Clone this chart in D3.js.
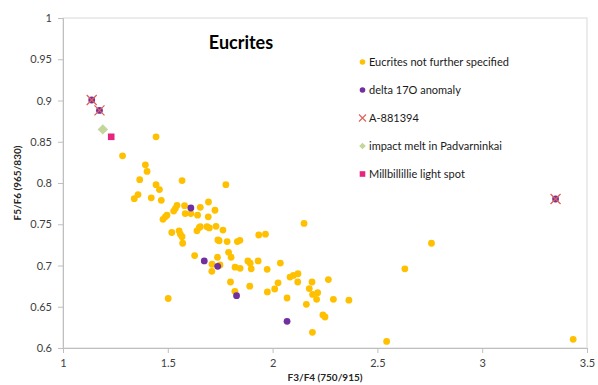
<!DOCTYPE html>
<html><head><meta charset="utf-8">
<script src="https://cdn.jsdelivr.net/npm/d3@7"></script>
<style>body{margin:0;background:#fff}svg{display:block}text{font-family:Lato,"Open Sans",sans-serif}</style>
</head><body><svg id="c" width="598" height="385"></svg>
<script>
const xTicks = [1, 1.5, 2, 2.5, 3, 3.5];
const yTicks = [0.6, 0.65, 0.7, 0.75, 0.8, 0.85, 0.9, 0.95, 1];
const seriesNames = ["Eucrites not further specified","delta 17O anomaly","A-881394","impact melt in Padvarninkai","Millbillillie light spot"];
const eucrites = [
[1.444,0.856],[1.284,0.833],[1.393,0.822],[1.401,0.814],[1.366,0.804],[1.568,0.803],[1.777,0.798],
[1.444,0.798],[1.460,0.792],[1.358,0.786],[1.340,0.781],[1.421,0.782],[1.469,0.779],[1.544,0.773],
[1.528,0.766],[1.536,0.769],[1.580,0.7725],[1.655,0.7705],[1.694,0.777],[1.725,0.767],[1.583,0.763],
[1.610,0.763],[1.642,0.761],[1.693,0.759],[1.496,0.761],[1.488,0.759],[1.477,0.756],[1.519,0.740],
[1.554,0.742],[1.560,0.738],[1.568,0.735],[1.571,0.727],[1.639,0.742],[1.650,0.746],[1.655,0.747],
[1.687,0.747],[1.698,0.7455],[1.730,0.7475],[1.763,0.743],[1.739,0.731],[1.745,0.730],[1.783,0.729],
[1.832,0.729],[1.844,0.7305],[1.934,0.737],[1.966,0.738],[2.150,0.751],[2.758,0.727],[2.631,0.696],
[1.628,0.712],[1.737,0.710],[1.790,0.716],[1.802,0.710],[1.711,0.7015],[1.749,0.7006],[1.710,0.693],
[1.821,0.698],[1.845,0.6966],[1.882,0.7055],[1.893,0.7027],[1.898,0.696],[1.931,0.7055],[1.974,0.6954],
[2.037,0.703],[2.083,0.686],[2.099,0.688],[2.121,0.690],[2.188,0.680],[2.266,0.683],[2.026,0.679],
[2.010,0.6715],[2.120,0.680],[2.175,0.672],[2.215,0.667],[2.191,0.665],[2.210,0.659],[2.290,0.659],
[2.364,0.658],[2.161,0.653],[2.240,0.640],[2.250,0.6376],[2.190,0.619],[2.544,0.608],[3.434,0.6105],
[2.069,0.6606],[1.799,0.680],[1.891,0.675],[1.820,0.6687],[1.975,0.668],[1.502,0.660]
];
const delta17O = [[1.610,0.7697],[1.674,0.7055],[1.738,0.699],[1.828,0.6634],[2.069,0.6323],[1.137,0.9006],[1.174,0.888],[3.35,0.7806]];
const a881394 = [[1.137,0.9006],[1.174,0.888],[3.35,0.7806]];
const impactMelt = [[1.190,0.865]];
const millbillillie = [[1.230,0.856]];

const colors = {euc:"#FFC000", d17:"#7030A0", a88:"#E0605A", imp:"#C3D69B", mil:"#E6267E"};

const svg = d3.select("#c");
const L=63, R=587, T=18, B=348;
const x = d3.scaleLinear().domain([1,3.5]).range([L,R]);
const y = d3.scaleLinear().domain([0.6,1]).range([B,T]);

svg.append("rect").attr("x",L).attr("y",T).attr("width",R-L).attr("height",B-T)
  .attr("fill","none").attr("stroke","#D9D9D9").attr("stroke-width",1);

const fmt = d => String(+d.toFixed(2));
const xa = svg.append("g").attr("transform",`translate(0,${B})`)
  .call(d3.axisBottom(x).tickValues(xTicks).tickFormat(fmt).tickSize(5).tickPadding(6));
const ya = svg.append("g").attr("transform",`translate(${L},0)`)
  .call(d3.axisLeft(y).tickValues(yTicks).tickFormat(fmt).tickSize(5).tickPadding(6));
[xa,ya].forEach(a=>{
  a.select(".domain").attr("stroke","#BFBFBF");
  a.selectAll(".tick line").attr("stroke","#BFBFBF");
  a.selectAll("text").attr("font-size","11px").attr("fill","#404040").style("font-family","Lato, sans-serif");
});

const g = svg.append("g");
g.selectAll(".e").data(eucrites).join("circle").attr("cx",d=>x(d[0])).attr("cy",d=>y(d[1])).attr("r",3.4).attr("fill",colors.euc);
g.selectAll(".p").data(delta17O).join("circle").attr("cx",d=>x(d[0])).attr("cy",d=>y(d[1])).attr("r",3.4).attr("fill",colors.d17);
const cr = 5;
a881394.forEach(d=>{
  const cx=x(d[0]), cy=y(d[1]);
  g.append("path").attr("d",`M${cx-cr},${cy-cr}L${cx+cr},${cy+cr}M${cx-cr},${cy+cr}L${cx+cr},${cy-cr}`)
   .attr("stroke",colors.a88).attr("stroke-width",1.3).attr("fill","none");
});
g.selectAll(".i").data(impactMelt).join("path")
  .attr("d",d3.symbol(d3.symbolDiamond2,70)).attr("transform",d=>`translate(${x(d[0])},${y(d[1])})`).attr("fill",colors.imp);
g.selectAll(".m").data(millbillillie).join("rect")
  .attr("x",d=>x(d[0])-3.3).attr("y",d=>y(d[1])-3.3).attr("width",6.6).attr("height",6.6).attr("fill",colors.mil);

svg.append("text").attr("x",241).attr("y",49).attr("text-anchor","middle")
  .attr("font-size","18px").attr("font-weight","bold").attr("fill","#000").text("Eucrites");

const lg = svg.append("g");
const ly0=62, ldy=28, lmx=362.5, ltx=369;
seriesNames.forEach((n,i)=>{
  const cy = ly0+i*ldy;
  if(i===0) lg.append("circle").attr("cx",lmx).attr("cy",cy).attr("r",2.8).attr("fill",colors.euc);
  if(i===1) lg.append("circle").attr("cx",lmx).attr("cy",cy).attr("r",2.8).attr("fill",colors.d17);
  if(i===2) lg.append("path").attr("d",`M${lmx-3.5},${cy-3.5}L${lmx+3.5},${cy+3.5}M${lmx-3.5},${cy+3.5}L${lmx+3.5},${cy-3.5}`).attr("stroke",colors.a88).attr("stroke-width",1.1);
  if(i===3) lg.append("path").attr("d",d3.symbol(d3.symbolDiamond2,28)).attr("transform",`translate(${lmx},${cy})`).attr("fill",colors.imp);
  if(i===4) lg.append("rect").attr("x",lmx-2.8).attr("y",cy-2.8).attr("width",5.6).attr("height",5.6).attr("fill",colors.mil);
  lg.append("text").attr("x",ltx).attr("y",cy).attr("dy","0.35em").attr("font-size","11px").attr("fill","#1a1a1a").text(n);
});

svg.append("text").attr("x",325).attr("y",381).attr("text-anchor","middle")
  .attr("font-size","10px").attr("font-weight","bold").attr("fill","#262626").text("F3/F4 (750/915)");
svg.append("text").attr("transform","translate(21,183) rotate(-90)").attr("text-anchor","middle")
  .attr("font-size","10px").attr("font-weight","bold").attr("fill","#262626").text("F5/F6 (965/830)");
</script></body></html>
